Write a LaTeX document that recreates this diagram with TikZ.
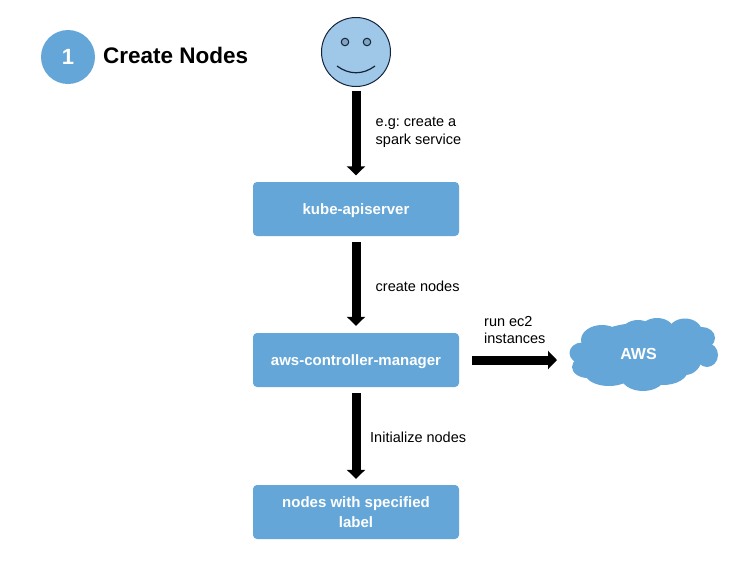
\documentclass[tikz,border=0pt]{standalone}
\usepackage{fontspec}
\setmainfont{Liberation Sans}
\usetikzlibrary{arrows.meta}
\definecolor{boxblue}{RGB}{100,166,216}
\definecolor{faceblue}{RGB}{158,199,232}
\definecolor{eyeblue}{RGB}{130,165,195}
\definecolor{inkline}{RGB}{20,35,60}
\tikzset{
  x=1pt,y=-1pt,
  boxnode/.style={fill=boxblue,rounded corners=4pt,minimum width=206pt,minimum height=54pt,inner sep=0pt,
    text=white,font=\fontsize{15}{19.5}\selectfont\bfseries,align=center},
  bigarrow/.style={line width=9pt,-{Triangle[length=9pt,width=18pt,sep=0pt]},black},
  lbl/.style={font=\frenchspacing\fontsize{14.5}{17.5}\selectfont,align=left,anchor=west,inner sep=0pt,text=black},
  puff/.style={fill=boxblue,draw=none},
  facepart/.style={draw=inkline,line width=1pt},
}
\begin{document}
\begin{tikzpicture}
\useasboundingbox (0,0) rectangle (734,563);
\fill[white] (0,0) rectangle (734,563);
% badge and title
\node[circle,fill=boxblue,minimum size=54pt,inner sep=0pt,text=white,font=\fontsize{22}{26}\selectfont\bfseries] (badge) at (68,57) {1};
\node[anchor=west,inner sep=0pt,font=\fontsize{22.5}{26}\selectfont\bfseries] (title) at (103,55) {Create Nodes};
% face
\node[circle,facepart,fill=faceblue,minimum size=69pt,inner sep=0pt] (face) at (356,52) {};
\node[circle,facepart,fill=eyeblue,minimum size=7.5pt,inner sep=0pt] (eyeL) at (345,42) {};
\node[circle,facepart,fill=eyeblue,minimum size=7.5pt,inner sep=0pt] (eyeR) at (367,42) {};
\coordinate (smileL) at (337,66);
\coordinate (smileR) at (375,66);
\draw[facepart,line width=1.2pt] (smileL) .. controls (349,75) and (363,75) .. (smileR);
% boxes
\node[boxnode] (kube) at (356,209) {\raisebox{-5pt}[0pt][0pt]{kube-apiserver}};
\node[boxnode] (acm) at (356,360) {\raisebox{-5.5pt}[0pt][0pt]{aws-controller-manager}};
\node[boxnode] (labeled) at (356,512) {nodes with specified\\label};
% cloud
\fill[puff] (640,352) ellipse (56 and 29);
\fill[puff] (602,340) ellipse (21 and 15);
\fill[puff] (638,333) ellipse (17 and 13);
\fill[puff] (657,332) ellipse (18 and 14);
\fill[puff] (685,332) ellipse (17 and 13.5);
\fill[puff] (702,338) ellipse (13 and 11);
\fill[puff] (707,355) ellipse (11 and 12);
\fill[puff] (685,357) ellipse (17 and 18);
\fill[puff] (663,370) ellipse (25 and 15);
\fill[puff] (643,375) ellipse (23 and 16);
\fill[puff] (609,373) ellipse (24 and 13);
\fill[puff] (588,367) ellipse (16 and 11);
\fill[puff] (582,353) ellipse (12.5 and 10.5);
\node[inner sep=0pt,text=white,font=\fontsize{16}{18}\selectfont\bfseries] (aws) at (638.5,354) {AWS};
% connectors
\coordinate (awsIn) at (557,360);
\draw[bigarrow,shorten <=3.5pt] (face.south) -- ([yshift=6.5pt]kube.north);
\draw[bigarrow,shorten <=6pt] (kube.south) -- ([yshift=7pt]acm.north);
\draw[bigarrow,shorten <=6pt] (acm.south) -- ([yshift=6pt]labeled.north);
\draw[bigarrow,shorten <=13pt] (acm.east) -- (awsIn);
% labels
\node[lbl] (l1) at (375.5,132.5) {e.g: create a\\spark service};
\node[lbl] (l2) at (375.5,286) {create nodes};
\node[lbl] (l3) at (484,330) {run ec2\\instances};
\node[lbl] (l4) at (370,437) {Initialize nodes};
\end{tikzpicture}
\end{document}
